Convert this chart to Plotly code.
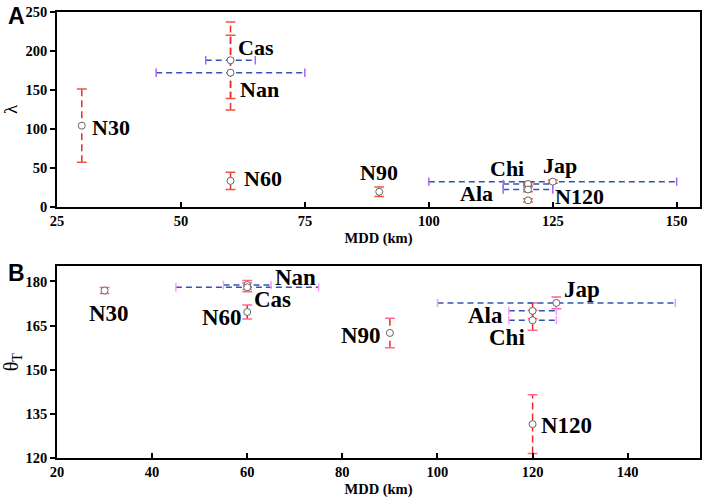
import plotly.graph_objects as go

# ---------------- data ----------------
sites = ["N30", "Cas", "Nan", "N60", "N90", "Jap", "Chi", "Ala", "N120"]
mdd = [30, 60, 60, 60, 90, 125, 120, 120, 120]
mdd_err = [0, 5, 15, 0, 0, 25, 5, 5, 0]

lam = [104, 188, 172, 33, 19, 32, 29, 22, 8]
lam_err = [47, 49, 48, 11, 6, 2, 2, 3, 2]

theta = [176.9, 178.8, 178.0, 169.6, 162.5, 172.7, 166.8, 170.0, 131.5]
theta_err = [1.0, 1.5, 1.5, 2.4, 5.0, 2.0, 3.4, 2.7, 10.0]

x_ticks_a = [25, 50, 75, 100, 125, 150]
y_ticks_a = [0, 50, 100, 150, 200, 250]
x_ticks_b = [20, 40, 60, 80, 100, 120, 140]
y_ticks_b = [120, 135, 150, 165, 180]

# label placement (layout only)
lab_a = {
    "N30": (31.7, 101.7, "left"), "Cas": (61.2, 204, "left"), "Nan": (61.5, 151, "left"),
    "N60": (62.4, 36, "left"), "N90": (90, 44, "center"), "Jap": (126.4, 52.6, "center"),
    "Chi": (115.8, 48.3, "center"), "Ala": (109.7, 17, "center"), "N120": (125.0, 12.8, "left"),
}
lab_b = {
    "N30": (30.9, 169, "center"), "Cas": (65.4, 173.8, "center"), "Nan": (70.1, 181.5, "center"),
    "N60": (54.7, 167.6, "center"), "N90": (88.6, 161.7, "right"), "Jap": (126.1, 177.2, "left"),
    "Chi": (114.7, 160.9, "center"), "Ala": (114.1, 168.5, "right"), "N120": (121.25, 131.2, "left"),
}

RED = "#f02828"
BLUE = "#2f55b5"
SERIF = "Liberation Serif"
SANS = "Liberation Sans"

fig = go.Figure()


def add_panel(yvals, yerr, xa, ya):
    vx, vy, cx, cy = [], [], [], []
    for x, y, e in zip(mdd, yvals, yerr):
        if e > 0:
            vx += [x, x, None]
            vy += [y - e, y + e, None]
            cx += [x, x]
            cy += [y - e, y + e]
    fig.add_trace(go.Scatter(x=vx, y=vy, mode="lines", xaxis=xa, yaxis=ya,
                             line=dict(color=RED, width=1.5, dash="7px,4px"),
                             showlegend=False, hoverinfo="skip"))
    fig.add_trace(go.Scatter(x=cx, y=cy, mode="markers", xaxis=xa, yaxis=ya,
                             marker=dict(symbol="line-ew-open", size=7,
                                         line=dict(color=RED, width=1.5)),
                             showlegend=False, hoverinfo="skip"))
    hx, hy, kx, ky = [], [], [], []
    for x, y, e in zip(mdd, yvals, mdd_err):
        if e > 0:
            hx += [x - e, x + e, None]
            hy += [y, y, None]
            kx += [x - e, x + e]
            ky += [y, y]
    fig.add_trace(go.Scatter(x=hx, y=hy, mode="lines", xaxis=xa, yaxis=ya,
                             line=dict(color=BLUE, width=1.5, dash="6px,4px"),
                             showlegend=False, hoverinfo="skip"))
    fig.add_trace(go.Scatter(x=kx, y=ky, mode="markers", xaxis=xa, yaxis=ya,
                             marker=dict(symbol="line-ns-open", size=6,
                                         line=dict(color=BLUE, width=1.5)),
                             showlegend=False, hoverinfo="skip"))
    fig.add_trace(go.Scatter(x=mdd, y=yvals, mode="markers", xaxis=xa, yaxis=ya,
                             marker=dict(symbol="circle", size=7, color="white",
                                         line=dict(color="#666666", width=1)),
                             showlegend=False, text=sites))


add_panel(lam, lam_err, "x", "y")
add_panel(theta, theta_err, "x2", "y2")

L, R, T, B = 54, 4, 11, 44
W = 706 - L - R
H = 502 - T - B

ann = []
for s, (x, y, anc) in lab_a.items():
    ann.append(dict(x=x, y=y, xref="x", yref="y", text="<b>" + s + "</b>", showarrow=False,
                    xanchor=anc, yanchor="middle",
                    font=dict(family=SERIF, size=22, color="black")))
for s, (x, y, anc) in lab_b.items():
    ann.append(dict(x=x, y=y, xref="x2", yref="y2", text="<b>" + s + "</b>", showarrow=False,
                    xanchor=anc, yanchor="middle",
                    font=dict(family=SERIF, size=23, color="black")))
for letter, top_px in (("A", 0), ("B", 258)):
    ann.append(dict(x=(3 - L) / W, y=(502 - B - top_px) / H, xref="paper", yref="paper",
                    text="<b>" + letter + "</b>", showarrow=False, xanchor="left", yanchor="top",
                    font=dict(family=SANS, size=23, color="black")))

tickfont = dict(family=SERIF, size=14.5, color="black", weight="bold")
axis_common = dict(showline=True, linecolor="black", linewidth=1.5, mirror=True,
                   showgrid=False, zeroline=False, tickfont=tickfont,
                   tickcolor="black", ticklen=5, tickwidth=1.5)

fig.update_layout(
    width=706, height=502,
    margin=dict(l=L, r=R, t=T, b=B),
    paper_bgcolor="white", plot_bgcolor="white",
    annotations=ann,
    xaxis=dict(axis_common, domain=[0, 1], anchor="y", range=[25, 154.7],
               tickvals=x_ticks_a, ticks="inside",
               title=dict(text="<b>MDD (km)</b>", standoff=5,
                          font=dict(family=SERIF, size=14.5, color="black"))),
    yaxis=dict(axis_common, domain=[(458 - 206) / H, 1], anchor="x", range=[0, 250],
               tickvals=y_ticks_a, ticks="outside",
               title=dict(text="λ", standoff=8,
                          font=dict(family=SERIF, size=19, color="black"))),
    xaxis2=dict(axis_common, domain=[0, 1], anchor="y2", range=[20, 155.2],
                tickvals=x_ticks_b, ticks="inside",
                title=dict(text="<b>MDD (km)</b>", standoff=5,
                           font=dict(family=SERIF, size=14.5, color="black"))),
    yaxis2=dict(axis_common, domain=[0, (458 - 266) / H], anchor="x2", range=[120, 185.1],
                tickvals=y_ticks_b, ticks="outside",
                title=dict(text="θ<sub>T</sub>", standoff=6,
                           font=dict(family=SERIF, size=20, color="black"))),
)

fig.write_html("out.html", config={"displayModeBar": False},
               post_script="document.body.style.margin='0px';")
